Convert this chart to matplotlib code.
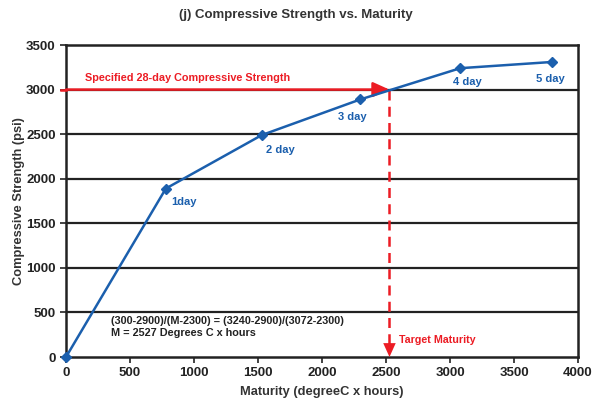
"""Compressive strength vs. maturity chart."""

import matplotlib

matplotlib.use("Agg")
import matplotlib.pyplot as plt

plt.rcParams["font.family"] = ["Liberation Sans", "DejaVu Sans"]
plt.rcParams["font.weight"] = "bold"

maturity = [0, 780, 1530, 2300, 3080, 3800]
strength = [0, 1890, 2490, 2890, 3240, 3310]
day_labels = ["", "1day", "2 day", "3 day", "4 day", "5 day"]

target_strength = 3000
target_maturity = 2527

BLUE = "#1b5fad"
RED = "#ec1c24"

fig = plt.figure(figsize=(5.92, 4.04), dpi=100)
ax = fig.add_axes([0.1115, 0.1163, 0.8649, 0.7723])

for y in range(500, 3500, 500):
    ax.axhline(y, color="#222222", lw=1.6, zorder=1)

ax.plot(maturity, strength, color=BLUE, lw=1.8, marker="D", ms=5.5,
        zorder=5, clip_on=False)

offsets = [(0, 0), (4, -10), (3, -11), (-16, -13), (-5, -10), (-12, -12)]
for x, y, lab, off in zip(maturity, strength, day_labels, offsets):
    if lab:
        ax.annotate(lab, (x, y), xytext=off, textcoords="offset points",
                    color=BLUE, fontsize=8, fontweight="bold", va="center")

# horizontal arrow to the target strength (starts on the tick, like the original)
ax.plot([-40, 0], [target_strength, target_strength], color=RED, lw=1.8,
        clip_on=False, zorder=4)
ax.annotate("", xy=(target_maturity, target_strength), xytext=(0, target_strength),
            arrowprops=dict(arrowstyle="-|>,head_length=1.0,head_width=0.45",
                            color=RED, lw=1.8, shrinkA=0, shrinkB=0), zorder=4)
# dashed vertical arrow down to the target maturity
ax.plot([target_maturity, target_maturity], [target_strength, 150], color=RED,
        lw=1.8, ls=(0, (4, 2.5)), zorder=4)
ax.annotate("", xy=(target_maturity, 0), xytext=(target_maturity, 160),
            arrowprops=dict(arrowstyle="-|>,head_length=1.0,head_width=0.45",
                            color=RED, lw=0, shrinkA=0, shrinkB=0), zorder=4)

ax.text(150, 3135, "Specified 28-day Compressive Strength", color=RED,
        fontsize=7.8, fontweight="bold", va="center")
ax.text(2600, 190, "Target Maturity", color=RED, fontsize=7.7,
        fontweight="bold", va="center")
ax.text(350, 340, "(300-2900)/(M-2300) = (3240-2900)/(3072-2300)\nM = 2527 Degrees C x hours",
        color="#222222", fontsize=7.8, fontweight="bold", va="center", linespacing=1.3)

ax.set_xlim(0, 4000)
ax.set_ylim(0, 3500)
ax.set_xticks(range(0, 4001, 500))
ax.set_yticks(range(0, 3501, 500))
ax.tick_params(labelsize=9.5, width=1.2, length=4, colors="#222222")
for spine in ax.spines.values():
    spine.set_linewidth(1.8)
    spine.set_color("#222222")

ax.set_xlabel("Maturity (degreeC x hours)", fontsize=9.3, fontweight="bold",
              color="#333333", labelpad=5)
ax.set_ylabel("Compressive Strength (psi)", fontsize=9.3, fontweight="bold",
              color="#333333", labelpad=1)
fig.text(0.5, 0.962, "(j) Compressive Strength vs. Maturity", ha="center",
         va="center", fontsize=9.5, fontweight="bold", color="#333333")

fig.savefig("out.png", dpi=100)
